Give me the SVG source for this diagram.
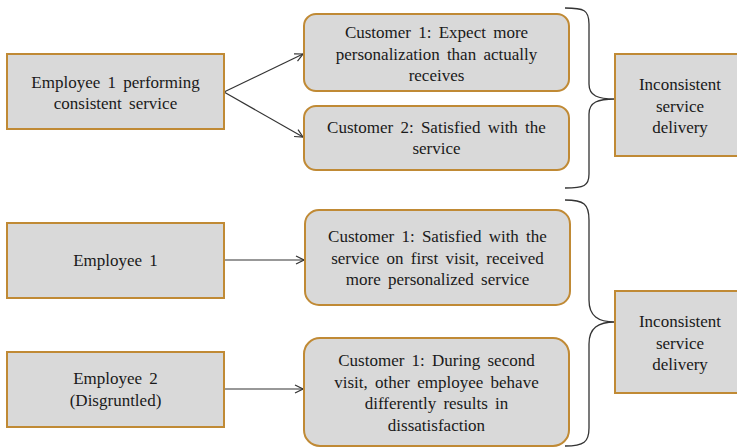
<svg xmlns="http://www.w3.org/2000/svg" width="737" height="448" viewBox="0 0 737 448">
  <defs>
    <marker id="arr" markerWidth="10" markerHeight="10" refX="9" refY="5" orient="auto" markerUnits="userSpaceOnUse">
      <path d="M1,1 L9,5 L1,9" fill="none" stroke="#333" stroke-width="1.2"/>
    </marker>
    <style>
      .box { fill: #d9d9d9; stroke: #c08a35; stroke-width: 2; }
      .lbl { font-size: 17px; fill: #1a1a1a; text-anchor: middle; word-spacing: 3px; }
      .conn { stroke: #333; stroke-width: 1.2; fill: none; }
      .brace { stroke: #333; stroke-width: 1.3; fill: none; }
    </style>
  </defs>
  <rect width="737" height="448" fill="#fff"/>

  <g id="connectors">
    <line class="conn" x1="224" y1="92" x2="303" y2="54" marker-end="url(#arr)"/>
    <line class="conn" x1="224" y1="92" x2="303" y2="137" marker-end="url(#arr)"/>
    <line class="conn" x1="224" y1="260" x2="304" y2="260" marker-end="url(#arr)"/>
    <line class="conn" x1="224" y1="389" x2="303" y2="389" marker-end="url(#arr)"/>
    <path class="brace" d="M565,8 C584,8 589,10 589,24 L589,84 C589,96 598,99 615,99 C598,99 589,102 589,114 L589,174 C589,186 584,188 565,188"/>
    <path class="brace" d="M565,200 C584,200 589,204 589,220 L589,300 C589,316 598,322 615,322 C598,322 589,328 589,344 L589,428 C589,442 584,446 565,446"/>
  </g>

  <g font-family="Liberation Serif, Times New Roman, serif">
  <g id="emp1-consistent">
    <rect class="box" x="7" y="54" width="217" height="75"/>
    <text class="lbl" x="115.5" y="88">Employee 1 performing</text>
    <text class="lbl" x="115.5" y="109">consistent service</text>
  </g>
  <g id="cust1-expect">
    <rect class="box" x="304" y="14" width="265" height="77" rx="12"/>
    <text class="lbl" x="436.5" y="38">Customer 1: Expect more</text>
    <text class="lbl" x="436.5" y="60">personalization than actually</text>
    <text class="lbl" x="436.5" y="81">receives</text>
  </g>
  <g id="cust2-satisfied">
    <rect class="box" x="304" y="106" width="265" height="64" rx="12"/>
    <text class="lbl" x="436.5" y="133">Customer 2: Satisfied with the</text>
    <text class="lbl" x="436.5" y="154">service</text>
  </g>
  <g id="inconsistent-1">
    <rect class="box" x="615" y="54" width="130" height="102"/>
    <text class="lbl" x="680" y="90">Inconsistent</text>
    <text class="lbl" x="680" y="112">service</text>
    <text class="lbl" x="680" y="133">delivery</text>
  </g>

  <g id="emp1">
    <rect class="box" x="7" y="223" width="217" height="75"/>
    <text class="lbl" x="115.5" y="266">Employee 1</text>
  </g>
  <g id="emp2">
    <rect class="box" x="7" y="352" width="217" height="75"/>
    <text class="lbl" x="115.5" y="384">Employee 2</text>
    <text class="lbl" x="115.5" y="406">(Disgruntled)</text>
  </g>
  <g id="cust1-first-visit">
    <rect class="box" x="305" y="210" width="265" height="95" rx="14"/>
    <text class="lbl" x="437.5" y="242">Customer 1: Satisfied with the</text>
    <text class="lbl" x="437.5" y="264">service on first visit, received</text>
    <text class="lbl" x="437.5" y="285">more personalized service</text>
  </g>
  <g id="cust1-second-visit">
    <rect class="box" x="304" y="338" width="265" height="108" rx="16"/>
    <text class="lbl" x="436.5" y="366">Customer 1: During second</text>
    <text class="lbl" x="436.5" y="388">visit, other employee behave</text>
    <text class="lbl" x="436.5" y="409">differently results in</text>
    <text class="lbl" x="436.5" y="431">dissatisfaction</text>
  </g>
  <g id="inconsistent-2">
    <rect class="box" x="615" y="291" width="130" height="102"/>
    <text class="lbl" x="680" y="327">Inconsistent</text>
    <text class="lbl" x="680" y="349">service</text>
    <text class="lbl" x="680" y="370">delivery</text>
  </g>
  </g>
</svg>
